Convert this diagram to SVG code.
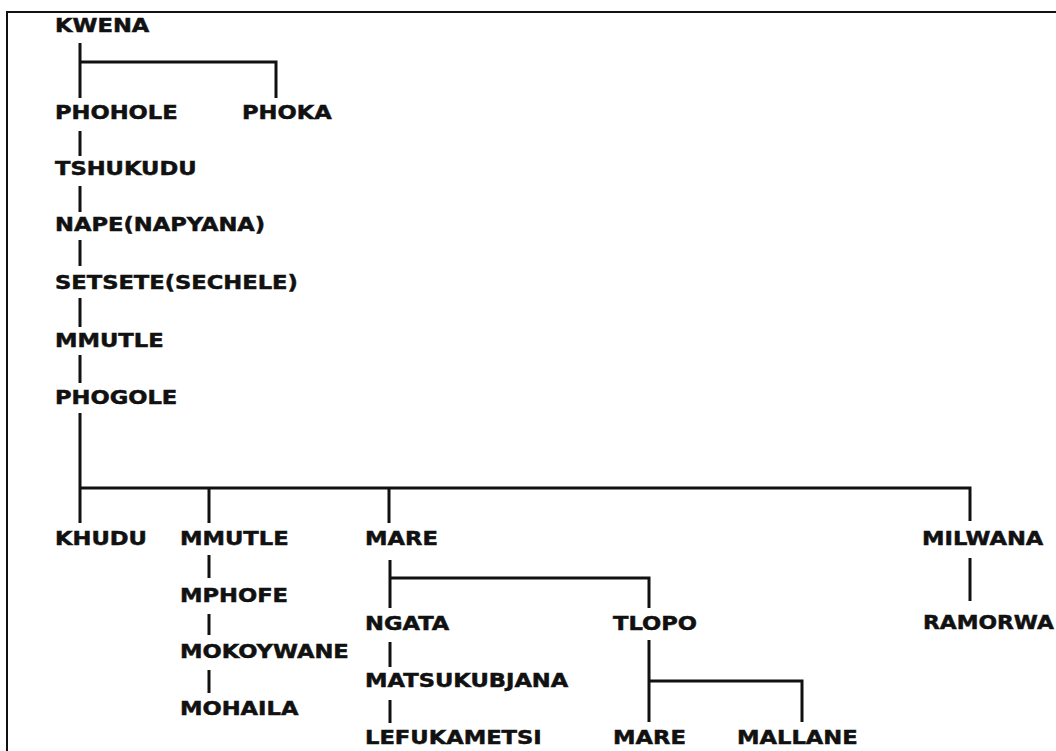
<svg xmlns="http://www.w3.org/2000/svg" width="1056" height="751" viewBox="0 0 1056 751">
<style>
text{font-family:"DejaVu Sans","Liberation Sans",sans-serif;font-weight:bold;font-size:19px;fill:#111;stroke:#111;stroke-width:0.5}
.c{stroke:#111;stroke-width:3;fill:none}
.b{stroke:#111;stroke-width:2;fill:none}
</style>
<rect width="1056" height="751" fill="#fff"/>
<path class="b" d="M7,751 V12 H1056"/>
<g id="connectors">
<path class="c" d="M80,43 V98 M80,62 H276 V98"/>
<path class="c" d="M80,131 V156 M80,186 V212 M80,240 V266 M80,298 V327 M80,355 V383 M80,413 V523"/>
<path class="c" d="M80,488 H970 V521 M209,488 V523 M389,488 V523"/>
<path class="c" d="M209,555 V578 M209,614 V635 M209,670 V693"/>
<path class="c" d="M390,560 V608 M390,578 H649 V608"/>
<path class="c" d="M390,642 V667 M390,700 V723"/>
<path class="c" d="M649,640 V722 M649,681 H802 V722"/>
<path class="c" d="M970,558 V601"/>
</g>
<g id="kwena"><text transform="translate(55,32) scale(1.19,1)">KWENA</text></g>
<g id="phohole"><text transform="translate(55,119) scale(1.19,1)">PHOHOLE</text></g>
<g id="phoka"><text transform="translate(242,119) scale(1.19,1)">PHOKA</text></g>
<g id="tshukudu"><text transform="translate(55,175) scale(1.19,1)">TSHUKUDU</text></g>
<g id="nape"><text transform="translate(55,231) scale(1.19,1)">NAPE(NAPYANA)</text></g>
<g id="setsete"><text transform="translate(55,289) scale(1.19,1)">SETSETE(SECHELE)</text></g>
<g id="mmutle1"><text transform="translate(55,347) scale(1.19,1)">MMUTLE</text></g>
<g id="phogole"><text transform="translate(55,404) scale(1.19,1)">PHOGOLE</text></g>
<g id="khudu"><text transform="translate(55,545) scale(1.19,1)">KHUDU</text></g>
<g id="mmutle2"><text transform="translate(180,545) scale(1.19,1)">MMUTLE</text></g>
<g id="mare1"><text transform="translate(365,545) scale(1.19,1)">MARE</text></g>
<g id="milwana"><text transform="translate(922,545) scale(1.19,1)">MILWANA</text></g>
<g id="mphofe"><text transform="translate(180,602) scale(1.19,1)">MPHOFE</text></g>
<g id="mokoywane"><text transform="translate(180,658) scale(1.19,1)">MOKOYWANE</text></g>
<g id="mohaila"><text transform="translate(180,715) scale(1.19,1)">MOHAILA</text></g>
<g id="ngata"><text transform="translate(365,630) scale(1.19,1)">NGATA</text></g>
<g id="tlopo"><text transform="translate(613,630) scale(1.19,1)">TLOPO</text></g>
<g id="ramorwa"><text transform="translate(923,629) scale(1.15,1)">RAMORWA</text></g>
<g id="matsukubjana"><text transform="translate(365,687) scale(1.19,1)">MATSUKUBJANA</text></g>
<g id="lefukametsi"><text transform="translate(365,744) scale(1.19,1)">LEFUKAMETSI</text></g>
<g id="mare2"><text transform="translate(613,744) scale(1.19,1)">MARE</text></g>
<g id="mallane"><text transform="translate(737,744) scale(1.19,1)">MALLANE</text></g>
</svg>
